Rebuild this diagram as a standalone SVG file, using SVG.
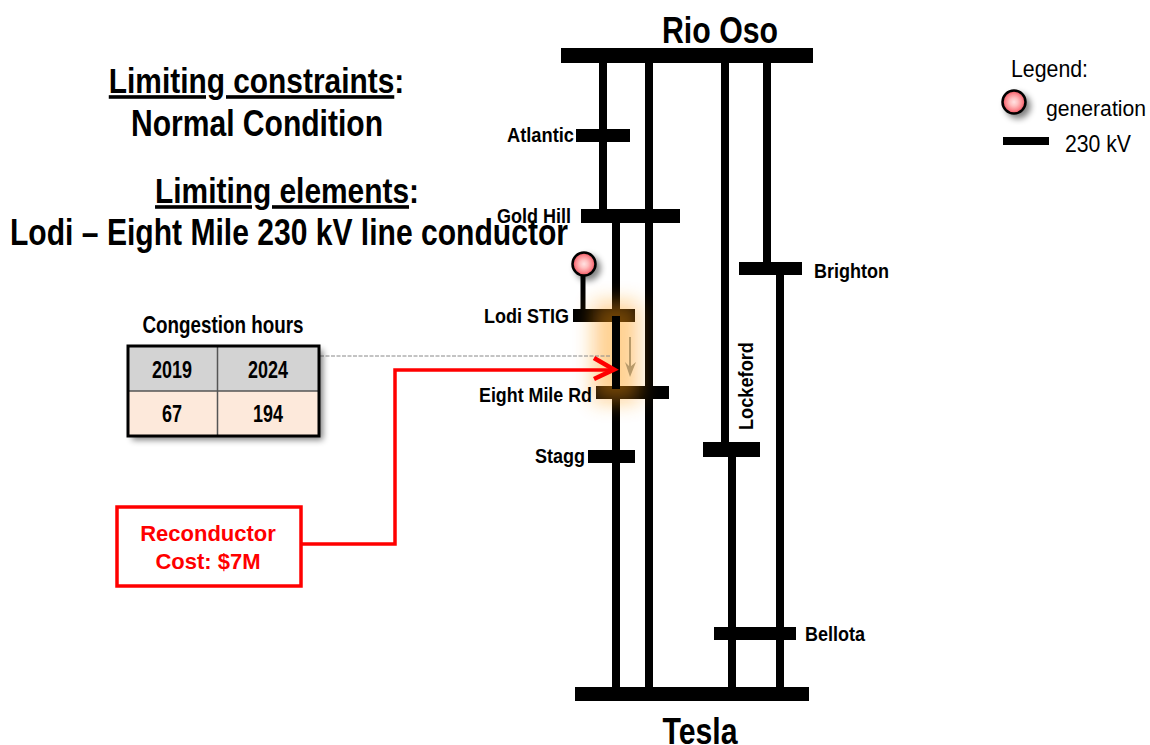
<svg xmlns="http://www.w3.org/2000/svg" width="1150" height="745" viewBox="0 0 1150 745">
<style>
text{font-family:"Liberation Sans",Arial,sans-serif;fill:#000;font-weight:bold;text-anchor:middle}
.bus{fill:#000}
.lbl{font-size:20px;text-anchor:start}
.head{font-size:36px}
.ttl{font-size:36px}
.u{text-decoration:underline}
.reg{font-weight:normal;font-size:24px;text-anchor:start}
.line{stroke:#000;stroke-width:8;fill:none}
.cell{font-size:24px}
</style>
<defs>
<filter id="sh" x="-50%" y="-50%" width="200%" height="200%"><feGaussianBlur in="SourceAlpha" stdDeviation="3"/><feOffset dx="4" dy="4"/><feComponentTransfer><feFuncA type="linear" slope="0.5"/></feComponentTransfer><feMerge><feMergeNode/><feMergeNode in="SourceGraphic"/></feMerge></filter>
<filter id="glow" x="-100%" y="-100%" width="300%" height="300%"><feGaussianBlur stdDeviation="10"/></filter>
<radialGradient id="gen" cx="50%" cy="50%" r="50%"><stop offset="0" stop-color="#ffe2e2"/><stop offset="0.35" stop-color="#ffc0c0"/><stop offset="0.7" stop-color="#fb8a90"/><stop offset="1" stop-color="#f04f5c"/></radialGradient>
<g id="genDot"><circle r="11.500" fill="url(#gen)" stroke="#000" stroke-width="2.500" filter="url(#sh)"/></g>
</defs>

<g id="connectors">
<path class="line" d="M603 55V215M649 55V694M725 55V449M767 55V268M616 215V694M732 449V694M780 268V694"/>
<path d="M583 276V315" stroke="#000" stroke-width="5" fill="none"/>
</g>

<g id="buses">
<rect class="bus" x="561" y="48" width="252" height="15"/>
<rect class="bus" x="576" y="129" width="54" height="13"/>
<rect class="bus" x="581" y="209" width="99" height="14"/>
<rect class="bus" x="739" y="262" width="63" height="13"/>
<rect class="bus" x="573" y="309" width="62" height="13"/>
<rect class="bus" x="596" y="386" width="73" height="13"/>
<rect class="bus" x="588" y="450" width="47" height="13"/>
<rect class="bus" x="703" y="442" width="57" height="15"/>
<rect class="bus" x="714" y="627" width="82" height="13"/>
<rect class="bus" x="575" y="687" width="234" height="14"/>
</g>

<g id="highlight">
<rect x="593" y="302" width="46" height="100" fill="#ff9a10" opacity="0.45" filter="url(#glow)"/>
<rect x="612" y="316" width="8" height="73" fill="#000"/>
<path d="M630 337V372" stroke="#b89a6a" stroke-width="2" fill="none"/>
<path d="M625 362L630 377L636 362L630 367Z" fill="#b89a6a"/>
</g>

<g id="flow-connectors">
<path d="M320 356H611" stroke="#888" stroke-width="1" stroke-dasharray="4 1.500" fill="none"/>
<path d="M302 544H395V370H614" stroke="#f00" stroke-width="3.500" fill="none"/>
<path d="M594 358L614 369.500L594 379" stroke="#f00" stroke-width="4.500" fill="none"/>
</g>

<g id="generator"><use href="#genDot" x="584" y="264"/></g>

<g id="title-rio"><text class="head" x="720" y="43" textLength="116" lengthAdjust="spacingAndGlyphs">Rio Oso</text></g>
<g id="title-tesla"><text class="head" x="700" y="744" textLength="75" lengthAdjust="spacingAndGlyphs">Tesla</text></g>

<g id="labels">
<text class="lbl" x="507" y="142" textLength="67" lengthAdjust="spacingAndGlyphs">Atlantic</text>
<text class="lbl" x="497" y="223" textLength="74" lengthAdjust="spacingAndGlyphs">Gold Hill</text>
<text class="lbl" x="814" y="278" textLength="75" lengthAdjust="spacingAndGlyphs">Brighton</text>
<text class="lbl" x="484" y="323" textLength="85" lengthAdjust="spacingAndGlyphs">Lodi STIG</text>
<text class="lbl" x="479" y="402" textLength="113" lengthAdjust="spacingAndGlyphs">Eight Mile Rd</text>
<text class="lbl" x="535" y="463" textLength="50" lengthAdjust="spacingAndGlyphs">Stagg</text>
<text class="lbl" x="805" y="641" textLength="60" lengthAdjust="spacingAndGlyphs">Bellota</text>
<text class="lbl" transform="translate(753,430) rotate(-90)" textLength="88" lengthAdjust="spacingAndGlyphs">Lockeford</text>
</g>

<g id="heading">
<text class="ttl" transform="translate(256.500,93) scale(.83,1)"><tspan class="u">Limiting constraints</tspan>:</text>
<text class="ttl" x="257" y="136" textLength="252" lengthAdjust="spacingAndGlyphs">Normal Condition</text>
<text class="ttl" transform="translate(287,203) scale(.83,1)"><tspan class="u">Limiting elements</tspan>:</text>
<text class="ttl" x="289" y="245" textLength="558" lengthAdjust="spacingAndGlyphs">Lodi – Eight Mile 230 kV line conductor</text>
</g>

<g id="table">
<text x="223" y="333" font-size="24" textLength="161" lengthAdjust="spacingAndGlyphs">Congestion hours</text>
<g filter="url(#sh)">
<rect x="128" y="346" width="191" height="45" fill="#d3d3d3"/>
<rect x="128" y="391" width="191" height="45" fill="#fde9db"/>
</g>
<path d="M128 391H319M217.500 346V436" stroke="#555" stroke-width="1.500" fill="none"/>
<rect x="128" y="346" width="191" height="90" fill="none" stroke="#000" stroke-width="3"/>
<text class="cell" x="172" y="378" textLength="40" lengthAdjust="spacingAndGlyphs">2019</text>
<text class="cell" x="268" y="378" textLength="40" lengthAdjust="spacingAndGlyphs">2024</text>
<text class="cell" x="172" y="422" textLength="20" lengthAdjust="spacingAndGlyphs">67</text>
<text class="cell" x="268" y="422" textLength="30" lengthAdjust="spacingAndGlyphs">194</text>
</g>

<g id="reconductor">
<rect x="117" y="507" width="184" height="79" fill="#fff" stroke="#f00" stroke-width="3.500"/>
<text x="208" y="541" font-size="22" style="fill:#f00">Reconductor</text>
<text x="208" y="569" font-size="22" style="fill:#f00">Cost: $7M</text>
</g>

<g id="legend">
<text class="reg" x="1011" y="77" textLength="77" lengthAdjust="spacingAndGlyphs">Legend:</text>
<use href="#genDot" x="1014" y="102"/>
<text class="reg" x="1046" y="116" style="font-size:21.500px" textLength="100" lengthAdjust="spacingAndGlyphs">generation</text>
<rect x="1003" y="137" width="46" height="8" fill="#000"/>
<text class="reg" x="1065" y="152" textLength="66" lengthAdjust="spacingAndGlyphs">230 kV</text>
</g>
</svg>
